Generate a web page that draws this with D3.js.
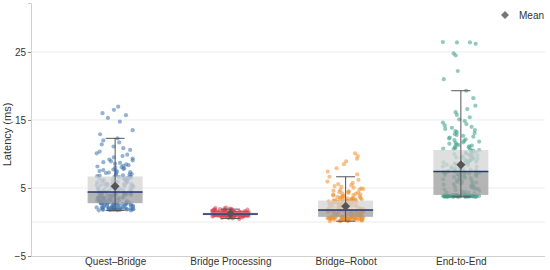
<!DOCTYPE html>
<html><head><meta charset="utf-8">
<script src="https://cdn.jsdelivr.net/npm/d3@7"></script>
<style>body{margin:0;background:#fff}svg{display:block;font-family:"Liberation Sans",Arial,sans-serif}</style>
</head><body><svg id="c" width="550" height="270"></svg>
<script>
const categories = ["Quest\u2013Bridge", "Bridge Processing", "Bridge\u2013Robot", "End-to-End"];
const colors = ["#3f72ad", "#d9434f", "#ef9030", "#3a9f87"];
const yTicks = [-5, 5, 15, 25];
const gridValues = [0, 5, 15, 25];

const questBridge = [
1.70,1.72,1.74,1.75,1.77,1.78,1.80,1.81,1.82,1.84,1.85,1.87,1.88,1.90,1.91,1.93,1.94,1.96,1.97,1.99,
2.01,2.03,2.05,2.07,2.09,2.11,2.14,2.16,2.19,2.21,2.24,2.27,2.30,2.33,2.36,2.39,2.42,2.45,2.48,2.51,
2.54,2.57,2.60,2.62,2.64,2.66,2.68,2.70,2.72,2.74,
2.77,2.80,2.83,2.85,2.88,2.91,2.94,2.97,3.00,3.03,3.06,3.09,3.12,3.15,3.18,3.21,3.25,3.28,3.31,3.35,
3.38,3.42,3.45,3.48,3.52,3.55,3.58,3.62,3.65,3.69,3.72,3.76,3.79,3.83,3.86,3.90,3.93,3.97,4.00,4.04,
4.07,4.11,4.14,4.18,4.21,4.25,4.28,4.32,4.35,4.39,
4.43,4.47,4.51,4.55,4.59,4.63,4.67,4.71,4.75,4.79,4.83,4.88,4.92,4.97,5.01,5.06,5.10,5.15,5.19,5.24,
5.28,5.33,5.38,5.42,5.47,5.52,5.56,5.61,5.66,5.71,5.76,5.80,5.85,5.90,5.95,6.00,6.05,6.10,6.15,6.20,
6.25,6.30,6.35,6.40,6.45,6.50,6.55,6.60,6.64,6.68,
6.74,6.80,6.86,6.92,6.98,7.05,7.12,7.19,7.26,7.33,7.40,7.48,7.56,7.64,7.72,7.80,7.89,7.98,8.07,8.16,
8.26,8.36,8.46,8.57,8.68,8.80,8.92,9.05,9.18,9.32,9.50,9.70,9.90,10.10,10.35,10.60,10.85,11.10,11.40,11.70,
12.00,12.30,12.90,13.50,14.75,15.30,15.70,16.00,16.50,16.96];

const bridgeProcessing = [
0.45,0.52,0.58,0.63,0.67,0.70,0.73,0.75,0.77,0.79,0.81,0.82,0.84,0.85,0.86,0.87,0.88,0.89,0.90,0.91,
0.92,0.93,0.93,0.94,0.95,0.95,0.96,0.96,0.97,0.97,0.98,0.98,0.99,0.99,0.99,1.00,1.00,
1.01,1.01,1.02,1.02,1.03,1.03,1.04,1.04,1.05,1.05,1.06,1.06,1.07,1.07,1.08,1.08,1.09,1.09,1.10,1.10,
1.11,1.11,1.12,1.12,1.13,1.13,1.14,1.14,1.15,1.15,1.15,1.16,1.16,1.16,1.17,1.17,1.17,1.18,
1.19,1.19,1.20,1.20,1.21,1.21,1.22,1.22,1.23,1.23,1.24,1.24,1.25,1.25,1.26,1.26,1.27,1.27,1.28,1.28,
1.29,1.29,1.30,1.30,1.31,1.31,1.32,1.32,1.33,1.33,1.34,1.34,1.35,1.35,1.36,1.36,1.37,1.37,
1.38,1.39,1.40,1.41,1.42,1.43,1.44,1.45,1.46,1.47,1.48,1.49,1.50,1.51,1.53,1.54,1.56,1.57,1.59,1.60,
1.62,1.64,1.66,1.68,1.70,1.72,1.74,1.77,1.80,1.83,1.86,1.89,1.92,1.96,2.00,2.05,2.10];

const bridgeRobot = [
0.12,0.14,0.16,0.18,0.20,0.21,0.23,0.24,0.26,0.27,0.29,0.30,0.32,0.33,0.35,0.36,0.38,0.39,0.41,0.42,
0.44,0.45,0.47,0.48,0.50,0.51,0.52,0.54,0.55,0.56,0.57,0.58,0.59,0.60,0.61,0.62,0.63,0.64,0.65,0.66,
0.67,0.68,0.69,0.70,0.71,0.72,0.72,0.73,0.74,0.74,
0.76,0.78,0.80,0.82,0.84,0.86,0.88,0.90,0.92,0.94,0.96,0.98,1.00,1.02,1.04,1.06,1.08,1.10,1.12,1.14,
1.16,1.18,1.20,1.22,1.24,1.26,1.28,1.30,1.32,1.34,1.36,1.38,1.40,1.42,1.44,1.46,1.48,1.50,1.52,1.54,
1.56,1.58,1.60,1.62,1.64,1.66,1.68,1.70,1.72,1.75,
1.78,1.81,1.84,1.87,1.90,1.93,1.96,1.99,2.02,2.05,2.08,2.11,2.14,2.17,2.20,2.23,2.26,2.29,2.32,2.35,
2.38,2.41,2.44,2.47,2.50,2.53,2.56,2.59,2.62,2.65,2.68,2.71,2.74,2.77,2.80,2.83,2.86,2.89,2.92,2.95,
2.98,3.00,3.02,3.04,3.06,3.08,3.10,3.12,3.13,3.14,
3.17,3.20,3.24,3.28,3.32,3.36,3.40,3.44,3.48,3.52,3.56,3.60,3.65,3.70,3.75,3.80,3.85,3.90,3.96,4.02,
4.08,4.14,4.20,4.26,4.32,4.38,4.45,4.52,4.60,4.68,4.76,4.85,4.95,5.05,5.16,5.28,5.42,5.58,5.75,5.95,
6.20,6.65,7.00,7.40,7.90,8.50,8.90,9.30,9.70,10.10];

const endToEnd = [
3.70,3.71,3.71,3.72,3.72,3.73,3.73,3.74,3.74,3.75,3.75,3.76,3.76,3.77,3.77,3.78,3.78,3.79,3.79,3.80,
3.80,3.81,3.81,3.82,3.82,3.83,3.83,3.84,3.84,3.85,3.85,3.86,3.86,3.87,3.87,3.88,3.88,3.89,3.89,3.90,
3.91,3.91,3.92,3.92,3.93,3.94,3.94,3.95,3.96,3.96,
3.99,4.05,4.12,4.20,4.28,4.36,4.44,4.52,4.60,4.68,4.76,4.84,4.92,5.00,5.08,5.16,5.24,5.32,5.40,5.48,
5.56,5.64,5.72,5.80,5.88,5.96,6.04,6.12,6.20,6.28,6.36,6.44,6.52,6.60,6.67,6.74,6.80,6.86,6.92,6.98,
7.03,7.08,7.13,7.18,7.22,7.26,7.30,7.33,7.36,7.39,
7.45,7.52,7.58,7.64,7.70,7.76,7.82,7.88,7.94,8.00,8.06,8.12,8.18,8.24,8.30,8.36,8.42,8.48,8.54,8.60,
8.66,8.72,8.78,8.84,8.90,8.96,9.02,9.08,9.14,9.20,9.26,9.32,9.38,9.44,9.50,9.57,9.64,9.71,9.78,9.85,
9.92,9.99,10.06,10.13,10.20,10.27,10.34,10.41,10.48,10.56,
10.65,10.72,10.80,10.88,10.96,11.05,11.14,11.23,11.32,11.42,11.52,11.62,11.72,11.83,11.94,12.05,12.17,12.29,12.41,12.54,
12.67,12.80,12.94,13.08,13.22,13.37,13.52,13.68,13.84,14.00,14.20,14.40,14.62,14.85,15.10,15.40,15.75,16.15,16.60,17.10,
18.20,19.30,21.00,22.20,24.50,24.80,26.20,26.40,26.40,26.45];

const series = [questBridge, bridgeProcessing, bridgeRobot, endToEnd];

const svg = d3.select("#c");
const mLeft = 31, mRight = 545, mTop = 3, mBottom = 256;
const y = d3.scaleLinear().domain([-5, 32.2]).range([mBottom, mTop]);
const x = d3.scalePoint().domain(categories).range([mLeft, mRight]).padding(0.73);

// gridlines
svg.append("g").selectAll("line").data(gridValues).join("line")
  .attr("x1", mLeft).attr("x2", mRight)
  .attr("y1", d => y(d)).attr("y2", d => y(d))
  .attr("stroke", "#ebebeb").attr("stroke-width", 1);

// axes
const yAxis = svg.append("g").attr("transform", `translate(${mLeft},0)`)
  .call(d3.axisLeft(y).tickValues(yTicks).tickSize(3).tickPadding(2).tickFormat(d => d < 0 ? "\u2212" + Math.abs(d) : d));
yAxis.select(".domain").attr("stroke", "#d0d0d0");
yAxis.selectAll(".tick line").attr("stroke", "#888");
yAxis.selectAll("text").attr("fill", "#333").style("font-size", "10px");

const xAxis = svg.append("g").attr("transform", `translate(0,${mBottom})`)
  .call(d3.axisBottom(x).tickSize(0).tickPadding(2));
xAxis.select(".domain").attr("stroke", "#d0d0d0").attr("d", `M${mLeft},0.5H${mRight}`);
xAxis.selectAll("text").attr("fill", "#333").style("font-size", "10px");

svg.append("text").attr("transform", `translate(11,${(mTop + mBottom) / 2 + 5}) rotate(-90)`)
  .attr("text-anchor", "middle").attr("fill", "#333").style("font-size", "11px").text("Latency (ms)");

const halfBox = 27.5, jitterW = 18.5, capW = 9.5;
function jit(i, k) {
  const s = Math.sin((i + 1) * 12.9898 + k * 78.233) * 43758.5453;
  return (s - Math.floor(s)) * 2 - 1;
}

categories.forEach((cat, k) => {
  const vals = series[k];
  const cx = x(cat);
  const sorted = vals.slice().sort(d3.ascending);
  const q1 = d3.quantile(sorted, 0.25), med = d3.quantile(sorted, 0.5), q3 = d3.quantile(sorted, 0.75);
  const iqr = q3 - q1;
  const hi = d3.max(sorted.filter(v => v <= q3 + 1.5 * iqr));
  const lo = d3.min(sorted.filter(v => v >= q1 - 1.5 * iqr));
  const mean = d3.mean(vals);
  const g = svg.append("g");
  g.selectAll("circle").data(vals).join("circle")
    .attr("cx", (d, i) => cx + jit(i, k) * jitterW)
    .attr("cy", d => y(d)).attr("r", 2.1)
    .attr("fill", colors[k]).attr("fill-opacity", 0.55);
  g.append("rect").attr("x", cx - halfBox).attr("width", 2 * halfBox)
    .attr("y", y(q3)).attr("height", y(med) - y(q3))
    .attr("fill", "#d4d4d4").attr("fill-opacity", 0.75);
  g.append("rect").attr("x", cx - halfBox).attr("width", 2 * halfBox)
    .attr("y", y(med)).attr("height", y(q1) - y(med))
    .attr("fill", "#9c9c9c").attr("fill-opacity", 0.75);
  g.append("line").attr("x1", cx).attr("x2", cx).attr("y1", y(lo)).attr("y2", y(hi))
    .attr("stroke", "#555").attr("stroke-width", 1);
  [lo, hi].forEach(v => g.append("line").attr("x1", cx - capW).attr("x2", cx + capW)
    .attr("y1", y(v)).attr("y2", y(v)).attr("stroke", "#555").attr("stroke-width", 1));
  g.append("line").attr("x1", cx - halfBox).attr("x2", cx + halfBox)
    .attr("y1", y(med)).attr("y2", y(med)).attr("stroke", "#1f3576").attr("stroke-width", 1.6);
  g.append("path").attr("transform", `translate(${cx},${y(mean)})`)
    .attr("d", "M0,-4.5L4.5,0L0,4.5L-4.5,0Z").attr("fill", "#555");
});

// legend
const lg = svg.append("g").attr("transform", "translate(505,15)");
lg.append("path").attr("d", "M0,-4L4,0L0,4L-4,0Z").attr("fill", "#777");
lg.append("text").attr("x", 14).attr("y", 3.5).attr("fill", "#333").style("font-size", "10px").text("Mean");
</script></body></html>
